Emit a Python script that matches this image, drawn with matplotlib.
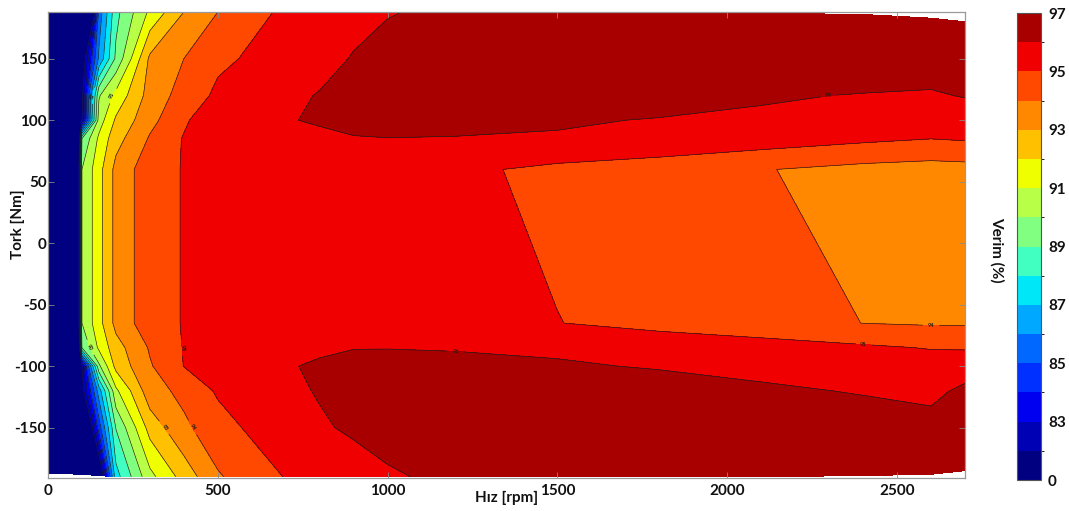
import numpy as np
import matplotlib
matplotlib.use("Agg")
import matplotlib.pyplot as plt
from matplotlib.colors import ListedColormap, BoundaryNorm

plt.rcParams['font.family'] = ['Lato', 'DejaVu Sans']
plt.rcParams['font.weight'] = 'bold'
plt.rcParams['axes.unicode_minus'] = False

# Operating grid: motor speed columns and torque rows
speed_rpm = [0, 100, 150, 200, 300, 400, 500, 700, 800, 900, 1000, 1200,
             1500, 1800, 2100, 2400, 2600, 2700]
torque_rows = [-187, -150, -120, -100, -85, -65, 60, 85, 100, 120, 150, 187]

# Torque envelope (max motoring / generating torque) per speed column
torque_top = [188, 188, 188, 188, 188, 188, 188, 188, 188, 188, 188, 188,
              188, 188, 187, 186, 183, 180]
torque_bottom = [-187, -188, -189, -190, -190, -190, -190, -190, -190, -190,
                 -190, -190, -190, -190, -190, -189, -188, -185]

# Efficiency (%) along each torque row, one value per speed column
eff_m187 = [0, 72.0, 80.2, 87.6, 90.7, 92.4, 93.9, 95.05, 95.4, 95.7, 95.9,
            96.2, 96.4, 96.5, 96.5, 96.5, 96.45, 96.4]
eff_m150 = [0, 78.0, 84.5, 89.05, 92.4, 93.8, 94.6, 95.74, 95.92, 96.1, 96.3,
            96.5, 96.6, 96.65, 96.6, 96.35, 96.35, 96.4]
eff_m120 = [0, 81.5, 86.5, 90.8, 93.6, 94.26, 95.13, 95.85, 96.05, 96.3, 96.4,
            96.45, 96.45, 96.4, 96.11, 95.95, 95.75, 96.21]
eff_m100 = [0, 82.0, 89.8, 92.3, 93.9, 95.02, 95.6, 95.95, 96.08, 96.2, 96.25,
            96.2, 96.1, 95.93, 95.8, 95.65, 95.45, 95.5]
eff_m85 = [0, 89.0, 91.2, 92.6, 94.1, 95.05, 95.35, 95.75, 95.9, 95.98, 95.98,
           95.95, 95.85, 95.6, 95.4, 95.15, 94.95, 94.93]
eff_m65 = [0, 90.0, 91.65, 93.3, 94.6, 95.05, 95.3, 95.5, 95.55, 95.6, 95.6,
           95.4, 95.02, 94.7, 94.4, 93.99, 93.9, 93.9]
eff_p60 = [0, 90.0, 91.65, 93.3, 94.6, 95.05, 95.3, 95.5, 95.55, 95.6, 95.55,
           95.2, 94.77, 94.45, 94.05, 93.72, 93.6, 93.65]
eff_p85 = [0, 89.0, 91.2, 92.63, 94.1, 95.07, 95.35, 95.75, 95.9, 95.97, 95.99,
           95.97, 95.95, 95.83, 95.53, 95.2, 95.01, 95.1]
eff_p100 = [0, 82.0, 90.5, 92.15, 93.7, 94.84, 95.8, 95.97, 96.05, 96.15, 96.2,
            96.2, 96.06, 95.97, 95.85, 95.7, 95.6, 95.5]
eff_p120 = [0, 81.7, 89.9, 91.3, 93.4, 94.4, 95.2, 95.8, 96.05, 96.25, 96.35,
            96.4, 96.35, 96.25, 96.1, 95.95, 95.9, 96.05]
eff_p150 = [0, 81.0, 86.2, 89.2, 93.2, 94.0, 94.8, 95.45, 95.7, 96.06, 96.3,
            96.5, 96.6, 96.7, 96.75, 96.7, 96.5, 96.4]
eff_p187 = [0, 71.2, 85.4, 88.7, 91.2, 93.0, 94.0, 95.23, 95.5, 95.7, 95.95,
            96.2, 96.4, 96.5, 96.55, 96.5, 96.4, 96.3]

# Contour levels, fill colours and colorbar ticks
levels = [0, 82, 83, 84, 85, 86, 87, 88, 89, 90, 91, 92, 93, 94, 95, 96, 97]
level_colors = ['#000080', '#0000b4', '#0000f0', '#0030ff', '#0068ff',
                '#00a8ff', '#00e8f8', '#40ffc0', '#80ff80', '#b8ff48',
                '#f0ff00', '#ffc000', '#ff8800', '#ff4800', '#f00000',
                '#a80000']
cbar_ticks = [0, 83, 85, 87, 89, 91, 93, 95, 97]
speed_ticks = [0, 500, 1000, 1500, 2000, 2500]
torque_ticks = [-150, -100, -50, 0, 50, 100, 150]
label_levels = [87, 90, 91, 93, 94, 95, 96]

Z = np.array([eff_m187, eff_m150, eff_m120, eff_m100, eff_m85, eff_m65,
              eff_p60, eff_p85, eff_p100, eff_p120, eff_p150, eff_p187])
S = np.tile(np.array(speed_rpm, float), (len(torque_rows), 1))
T = np.repeat(np.array(torque_rows, float)[:, None], len(speed_rpm), axis=1)
T[0, :] = torque_bottom
T[-1, :] = torque_top

W, H = 1069, 511
fig = plt.figure(figsize=(W / 100, H / 100), dpi=100)
ax = fig.add_axes([48 / W, 1 - 478 / H, 917 / W, 466 / H])

cmap = ListedColormap(level_colors)
norm = BoundaryNorm(levels, cmap.N)
cf = ax.contourf(S, T, Z, levels=levels, cmap=cmap, norm=norm)
cl = ax.contour(S, T, Z, levels=levels[1:], colors='#1a1a1a', linewidths=0.45)
ax.clabel(cl, levels=label_levels, fontsize=4, inline=True, fmt='%d',
          colors='#1a1a1a')

ax.set_xlim(0, 2700)
ax.set_ylim(-191, 188)
ax.set_xticks(speed_ticks)
ax.set_yticks(torque_ticks)
ax.tick_params(direction='in', top=True, right=True, length=4, width=0.6,
               color='#888888', labelsize=11, labelcolor='#111111')
ax.tick_params(axis='x', pad=4)
ax.tick_params(axis='y', pad=1)
for sp in ax.spines.values():
    sp.set_color('#999999')
    sp.set_linewidth(0.9)

ax.set_xlabel('Hız [rpm]', fontsize=11, fontweight='bold', color='#111111')
ax.xaxis.set_label_coords(0.5, -0.028)
ax.set_ylabel('Tork [Nm]', fontsize=11, fontweight='bold', color='#111111')
ax.yaxis.set_label_coords(-0.025, 0.545)

cax = fig.add_axes([1017 / W, 1 - 480 / H, 24 / W, 467 / H])
cb = fig.colorbar(cf, cax=cax, ticks=cbar_ticks)
cb.ax.tick_params(length=0, labelsize=11, pad=5, labelcolor='#111111')
cb.outline.set_edgecolor('#555555')
cb.outline.set_linewidth(0.8)
fig.text(997 / W, 1 - 250 / H, 'Verim (%)', rotation=270, ha='center',
         va='center', fontsize=11, fontweight='bold', color='#111111')

fig.savefig('out.png', dpi=100)
